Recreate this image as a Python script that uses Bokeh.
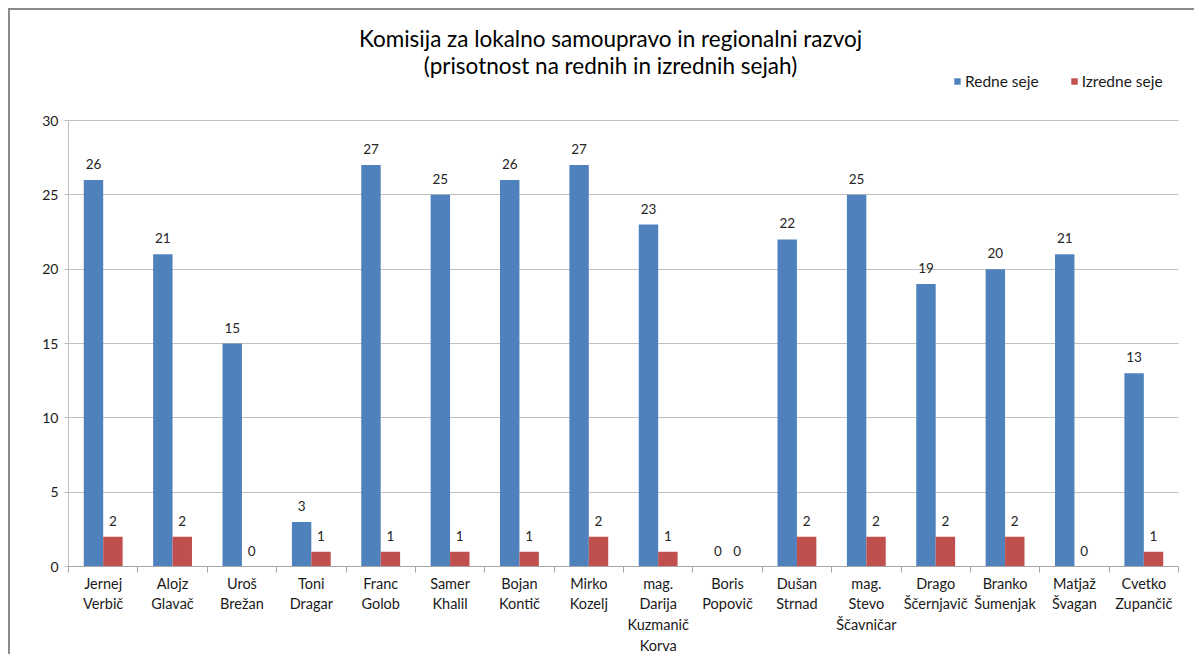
import numpy as np
from bokeh.plotting import figure
from bokeh.models import (ColumnDataSource, Range1d, FixedTicker, CustomJSTickFormatter,
                          Label, Legend, LegendItem)
from bokeh.embed import file_html
from bokeh.resources import INLINE
from bokeh.core.properties import value

# ---- data ----
names = ["Jernej Verbič", "Alojz Glavač", "Uroš Brežan", "Toni Dragar", "Franc Golob",
         "Samer Khalil", "Bojan Kontič", "Mirko Kozelj", "mag. Darija Kuzmanič Korva",
         "Boris Popovič", "Dušan Strnad", "mag. Stevo Ščavničar", "Drago Ščernjavič",
         "Branko Šumenjak", "Matjaž Švagan", "Cvetko Zupančič"]
redne = [26, 21, 15, 3, 27, 25, 26, 27, 23, 0, 22, 25, 19, 20, 21, 13]
izredne = [2, 2, 0, 1, 1, 1, 1, 2, 1, 0, 2, 2, 2, 2, 0, 1]
series_names = ["Redne seje", "Izredne seje"]
y_ticks = [0, 5, 10, 15, 20, 25, 30]
title1 = "Komisija za lokalno samoupravo in regionalni razvoj"
title2 = "(prisotnost na rednih in izrednih sejah)"

BLUE = "#4F81BD"
RED = "#C0504D"
FONT = "Lato"
BAR_W = 0.28
Y_MAX = 30
Y_TOP = Y_MAX * 556 / 446   # frame reaches up to the chart's top edge (title/legend area)

n = len(names)
centers = np.arange(n) + 0.5
labels = ["\n".join(nm.split()) for nm in names]

src = ColumnDataSource(dict(
    xb=centers - BAR_W / 2, xr=centers + BAR_W / 2,
    redne=redne, izredne=izredne,
    tr=[str(v) for v in redne], ti=[str(v) for v in izredne],
))

p = figure(width=1186, height=646, output_backend="svg", toolbar_location=None,
           x_range=Range1d(0, n), y_range=Range1d(0, Y_TOP),
           min_border_left=58, min_border_right=18, min_border_top=0, min_border_bottom=90)
p.styles = {"margin-left": "8px", "margin-top": "8px",
            "border-left": "2px solid #8a8a8a", "border-top": "2px solid #8a8a8a"}
p.outline_line_color = None
p.background_fill_color = "white"
p.border_fill_color = "white"

rb = p.vbar(x="xb", top="redne", width=BAR_W, source=src, fill_color=BLUE, line_color=None)
rr = p.vbar(x="xr", top="izredne", width=BAR_W, source=src, fill_color=RED, line_color=None)

p.text(x="xb", y="redne", text="tr", source=src, text_align="center", text_baseline="alphabetic",
       y_offset=-16, text_font=value(FONT), text_font_size="13.5px", text_color="#262626")
p.text(x="xr", y="izredne", text="ti", source=src, text_align="center", text_baseline="alphabetic",
       y_offset=-16, text_font=value(FONT), text_font_size="13.5px", text_color="#262626")

# x axis: tick marks between categories, names centred under each group
xa = p.xaxis[0]
xa.ticker = FixedTicker(ticks=list(centers), minor_ticks=list(np.arange(n + 1)))
xa.formatter = CustomJSTickFormatter(args=dict(labels=labels),
                                     code="const i = Math.floor(tick); return labels[i] ?? '';")
xa.major_tick_in = 0
xa.major_tick_out = 0
xa.minor_tick_in = 0
xa.minor_tick_out = 6
xa.minor_tick_line_color = "#a6a6a6"
xa.axis_line_color = "#a6a6a6"
xa.major_label_text_font = FONT
xa.major_label_text_font_size = "14.5px"
xa.major_label_text_color = "#1a1a1a"
xa.major_label_text_line_height = 1.22
xa.major_label_standoff = 2
p.xgrid.visible = False

# y axis
ya = p.yaxis[0]
ya.ticker = FixedTicker(ticks=y_ticks)
ya.bounds = (0, Y_MAX)
ya.major_tick_in = 0
ya.major_tick_out = 4
ya.minor_tick_line_color = None
ya.major_tick_line_color = "#bfbfbf"
ya.axis_line_color = "#bfbfbf"
ya.major_label_text_font = FONT
ya.major_label_text_font_size = "14px"
ya.major_label_text_color = "#1a1a1a"
ya.major_label_standoff = 6
p.ygrid.grid_line_color = "#bfbfbf"
p.ygrid.ticker = FixedTicker(ticks=y_ticks)

# title (screen units relative to the frame's bottom-left)
for txt, yy in [(title1, 528), (title2, 501)]:
    p.add_layout(Label(x=542, y=yy, x_units="screen", y_units="screen", text=txt,
                       text_align="center", text_baseline="middle", text_font=FONT,
                       text_font_size="22.5px", text_color="#000000"))

legend = Legend(items=[LegendItem(label=series_names[0], renderers=[rb]),
                       LegendItem(label=series_names[1], renderers=[rr])],
                location=(885, 476), orientation="horizontal", margin=0, padding=0,
                glyph_width=8, glyph_height=8, label_height=16, spacing=31, label_standoff=4,
                label_text_font=FONT, label_text_font_size="15.5px", label_text_color="#1a1a1a",
                border_line_color=None, background_fill_alpha=0)
p.add_layout(legend, "center")

open("out.html", "w").write(file_html(p, INLINE))
